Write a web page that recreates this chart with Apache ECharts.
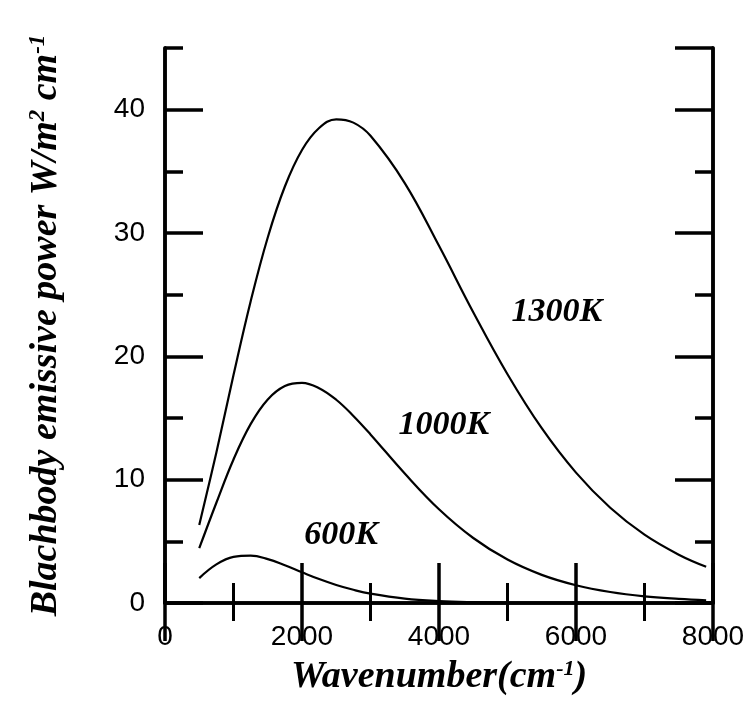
<!DOCTYPE html>
<html>
<head>
<meta charset="utf-8">
<script src="https://cdn.jsdelivr.net/npm/echarts@6/dist/echarts.min.js"></script>
<style>html,body{margin:0;background:#fff}#main{width:756px;height:713px}</style>
</head>
<body>
<div id="main"></div>
<script>
// values (W/m2 cm-1)
var wavenumber = [500, 750, 1000, 1250, 1500, 1750, 2000, 2250, 2500, 2750, 3000, 3500, 4000, 4500, 5000, 5500, 6000, 6500, 7000, 7500, 7900];
var e1300 = [6.33, 12.21, 18.48, 24.45, 29.64, 33.77, 36.73, 38.51, 39.22, 38.95, 37.88, 34.05, 28.96, 23.58, 18.55, 14.17, 10.57, 7.72, 5.54, 3.92, 2.94];
var e1000 = [4.44, 8.13, 11.64, 14.50, 16.50, 17.59, 17.85, 17.42, 16.48, 15.17, 13.67, 10.50, 7.60, 5.27, 3.52, 2.28, 1.44, 0.89, 0.54, 0.33, 0.21];
var e600 = [2.02, 3.13, 3.74, 3.84, 3.56, 3.06, 2.49, 1.94, 1.46, 1.07, 0.76, 0.36, 0.16, 0.07, 0.03, 0.01, 0.005, 0.002, 0.001, 0.0, 0.0];

var labelText = ['1300K', '1000K', '600K'];
var labelX = [5720, 4070, 2570];
var labelY = [23.6, 14.4, 5.5];

var dom = document.getElementById('main');
var myChart = echarts.init(dom);

var serif = {
    fontFamily: 'Liberation Serif',
    fontStyle: 'italic',
    fontWeight: 'bold',
    color: '#000'
};
var black = { color: '#000', width: 3.5 };

function pairs(ys) {
    return wavenumber.map(function (x, i) { return [x, ys[i]]; });
}

function curve(name, ys) {
    return {
        name: name,
        type: 'line',
        data: pairs(ys),
        showSymbol: false,
        smooth: 0.4,
        lineStyle: { color: '#000', width: 2.2 },
        silent: true
    };
}

function yAxis(pos, interval, len, withLabel) {
    var ax = {
        type: 'value',
        position: pos,
        min: 0,
        max: 45,
        interval: interval,
        axisLine: { show: true, lineStyle: black },
        axisTick: { show: true, inside: true, length: len, lineStyle: black },
        splitLine: { show: false },
        axisLabel: { show: false }
    };
    if (withLabel) {
        ax.axisLabel = {
            show: true, margin: 20, color: '#000',
            fontFamily: 'Liberation Sans', fontSize: 28,
            showMaxLabel: false
        };
        ax.name = 'Blachbody emissive power W/m{sup|2} cm{sup|-1}';
        ax.nameLocation = 'middle';
        ax.nameGap = 100;
        ax.nameTextStyle = Object.assign({ fontSize: 38, rich: {
            sup: Object.assign({ fontSize: 23, verticalAlign: 'top' }, serif)
        } }, serif);
    }
    return ax;
}

var option = {
    animation: false,
    backgroundColor: '#fff',
    grid: { left: 165, right: 43, top: 48, bottom: 110 },
    xAxis: [
        {
            type: 'value',
            position: 'bottom',
            min: 0,
            max: 8000,
            interval: 2000,
            axisLine: { lineStyle: black },
            axisTick: { inside: true, length: 40, lineStyle: black },
            minorTick: { show: true, splitNumber: 2, length: 20, lineStyle: { color: '#000', width: 3 } },
            splitLine: { show: false },
            axisLabel: {
                margin: 20, color: '#000', fontFamily: 'Liberation Sans', fontSize: 28,
                formatter: function (v) { return String(v); }
            },
            name: 'Wavenumber(cm{sup|-1})',
            nameLocation: 'middle',
            nameGap: 55,
            nameTextStyle: Object.assign({ fontSize: 38, rich: {
                sup: Object.assign({ fontSize: 22, verticalAlign: 'top' }, serif)
            } }, serif)
        },
        {
            type: 'value',
            position: 'top',
            min: 0,
            max: 8000,
            interval: 2000,
            axisLine: { lineStyle: black },
            axisTick: { inside: true, length: 38, lineStyle: black },
            minorTick: { show: true, splitNumber: 2, length: 18, lineStyle: { color: '#000', width: 3 } },
            splitLine: { show: false },
            axisLabel: { show: false }
        }
    ],
    yAxis: [
        yAxis('left', 10, 38, true),
        yAxis('left', 5, 18, false),
        yAxis('right', 10, 38, false),
        yAxis('right', 5, 18, false)
    ],
    series: [
        curve('1300K', e1300),
        curve('1000K', e1000),
        curve('600K', e600),
        {
            type: 'scatter',
            silent: true,
            symbolSize: 1,
            itemStyle: { color: 'rgba(0,0,0,0)', opacity: 1 },
            data: labelText.map(function (t, i) {
                return { name: t, value: [labelX[i], labelY[i]] };
            }),
            label: Object.assign({ show: true, position: 'inside', formatter: '{b}', fontSize: 34, opacity: 1 }, serif)
        }
    ]
};

if (option && typeof option === 'object') {
    myChart.setOption(option);
}
</script>
</body>
</html>
